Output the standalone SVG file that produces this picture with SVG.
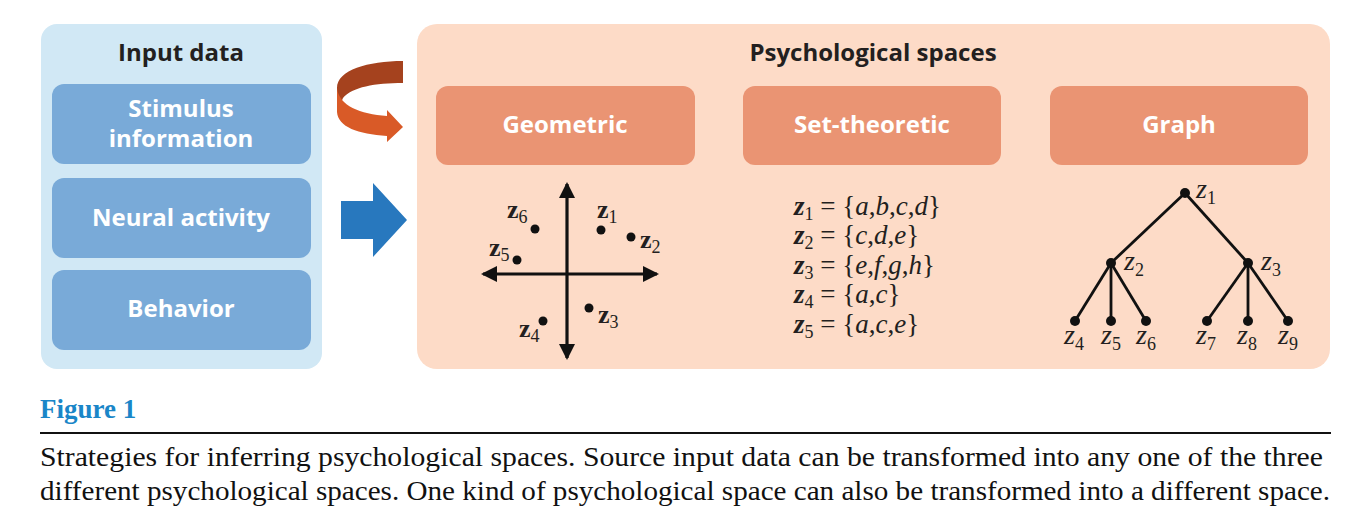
<svg xmlns="http://www.w3.org/2000/svg" width="1354" height="527" viewBox="0 0 1354 527">
<style>
.hd{font-family:"Open Sans","Noto Sans",sans-serif;font-weight:700;font-size:24px;fill:#231f20;text-anchor:middle}
.bl{font-family:"Open Sans","Noto Sans",sans-serif;font-weight:700;font-size:24px;fill:#ffffff;text-anchor:middle}
.zb{font-family:"Liberation Serif",serif;font-weight:700;font-size:26px;fill:#231f20}
.sb{font-family:"Liberation Serif",serif;font-size:18px;font-style:normal;font-weight:400;fill:#231f20}
.st{font-family:"Liberation Serif",serif;font-size:27px;fill:#231f20}
.zi{font-family:"Liberation Serif",serif;font-style:italic;font-size:28px;fill:#231f20}
.ax{stroke:#111;stroke-width:3.2;fill:none}
.ed{stroke:#111;stroke-width:2.8;fill:none}
.cap{font-family:"Liberation Serif",serif;font-size:28px;fill:#111}
</style>
<defs>
<marker id="ah" viewBox="0 0 16 16" refX="14" refY="8" markerWidth="16" markerHeight="16" markerUnits="userSpaceOnUse" orient="auto-start-reverse">
<path d="M0,0 L16,8 L0,16 Z" fill="#111"/>
</marker>
</defs>
<rect width="1354" height="527" fill="#ffffff"/>

<g id="input-data">
<rect x="41" y="24" width="281" height="345" rx="16" fill="#d1e8f5"/>
<text class="hd" x="181" y="61">Input data</text>
</g>
<g id="stimulus">
<rect x="52" y="84" width="259" height="80" rx="12" fill="#79aad8"/>
<text class="bl" x="181" y="117">Stimulus</text>
<text class="bl" x="181" y="147">information</text>
</g>
<g id="neural">
<rect x="52" y="178" width="259" height="80" rx="12" fill="#79aad8"/>
<text class="bl" x="181" y="226">Neural activity</text>
</g>
<g id="behavior">
<rect x="52" y="270" width="259" height="80" rx="12" fill="#79aad8"/>
<text class="bl" x="181" y="317">Behavior</text>
</g>

<g id="psych-spaces">
<rect x="417" y="24" width="913" height="345" rx="20" fill="#fddbc7"/>
<text class="hd" x="873" y="61">Psychological spaces</text>
</g>
<g id="geometric">
<rect x="436" y="86" width="259" height="79" rx="12" fill="#ea9473"/>
<text class="bl" x="565" y="133">Geometric</text>
</g>
<g id="set-theoretic">
<rect x="743" y="86" width="258" height="79" rx="12" fill="#ea9473"/>
<text class="bl" x="872" y="133">Set-theoretic</text>
</g>
<g id="graph">
<rect x="1050" y="86" width="258" height="79" rx="12" fill="#ea9473"/>
<text class="bl" x="1179" y="133">Graph</text>
</g>

<g id="connectors">
<path d="M341,201 L373,201 L373,183 L407,220 L373,257 L373,239 L341,239 Z" fill="#2878be"/>
<path d="M403,61 L403,83 C375,83 352,87 343,98 L337,112 L337,88 C337,70 368,61 403,61 Z" fill="#a5421e"/>
<path d="M337,88 L337,112 C338,127 358,134 387,136 L387,142 L403,127 L387,110 L387,116 C360,114 339,106 337,88 Z" fill="#d95a27"/>
</g>

<g id="geometric-plot">
<line class="ax" x1="567" y1="184" x2="567" y2="358" marker-start="url(#ah)" marker-end="url(#ah)"/>
<line class="ax" x1="483" y1="274" x2="657" y2="274" marker-start="url(#ah)" marker-end="url(#ah)"/>
<g fill="#111">
<circle cx="601" cy="230" r="4.5"/>
<circle cx="631" cy="237" r="4.5"/>
<circle cx="535" cy="229" r="4.5"/>
<circle cx="517" cy="260" r="4.5"/>
<circle cx="589" cy="308" r="4.5"/>
<circle cx="543" cy="321" r="4.5"/>
</g>
<text class="zb" x="597" y="218">z<tspan class="sb" dy="5">1</tspan></text>
<text class="zb" x="640" y="248">z<tspan class="sb" dy="5">2</tspan></text>
<text class="zb" x="507" y="218">z<tspan class="sb" dy="5">6</tspan></text>
<text class="zb" x="489" y="256">z<tspan class="sb" dy="5">5</tspan></text>
<text class="zb" x="598" y="323">z<tspan class="sb" dy="5">3</tspan></text>
<text class="zb" x="519" y="337">z<tspan class="sb" dy="5">4</tspan></text>
</g>

<g id="set-list">
<text class="st" x="794" y="215"><tspan font-weight="700" font-style="italic">z</tspan><tspan font-size="18" dy="5">1</tspan><tspan dy="-5"> = {<tspan font-style="italic">a</tspan>,<tspan font-style="italic">b</tspan>,<tspan font-style="italic">c</tspan>,<tspan font-style="italic">d</tspan>}</tspan></text>
<text class="st" x="794" y="244"><tspan font-weight="700" font-style="italic">z</tspan><tspan font-size="18" dy="5">2</tspan><tspan dy="-5"> = {<tspan font-style="italic">c</tspan>,<tspan font-style="italic">d</tspan>,<tspan font-style="italic">e</tspan>}</tspan></text>
<text class="st" x="794" y="274"><tspan font-weight="700" font-style="italic">z</tspan><tspan font-size="18" dy="5">3</tspan><tspan dy="-5"> = {<tspan font-style="italic">e</tspan>,<tspan font-style="italic">f</tspan>,<tspan font-style="italic">g</tspan>,<tspan font-style="italic">h</tspan>}</tspan></text>
<text class="st" x="794" y="303"><tspan font-weight="700" font-style="italic">z</tspan><tspan font-size="18" dy="5">4</tspan><tspan dy="-5"> = {<tspan font-style="italic">a</tspan>,<tspan font-style="italic">c</tspan>}</tspan></text>
<text class="st" x="794" y="333"><tspan font-weight="700" font-style="italic">z</tspan><tspan font-size="18" dy="5">5</tspan><tspan dy="-5"> = {<tspan font-style="italic">a</tspan>,<tspan font-style="italic">c</tspan>,<tspan font-style="italic">e</tspan>}</tspan></text>
</g>

<g id="graph-tree">
<line class="ed" x1="1185" y1="193" x2="1111" y2="263"/>
<line class="ed" x1="1185" y1="193" x2="1248" y2="263"/>
<line class="ed" x1="1111" y1="263" x2="1075" y2="321"/>
<line class="ed" x1="1111" y1="263" x2="1111" y2="321"/>
<line class="ed" x1="1111" y1="263" x2="1146" y2="321"/>
<line class="ed" x1="1248" y1="263" x2="1207" y2="321"/>
<line class="ed" x1="1248" y1="263" x2="1248" y2="321"/>
<line class="ed" x1="1248" y1="263" x2="1288" y2="321"/>
<g fill="#111">
<circle cx="1185" cy="193" r="5"/>
<circle cx="1111" cy="263" r="5"/>
<circle cx="1248" cy="263" r="5"/>
<circle cx="1075" cy="321" r="5"/>
<circle cx="1111" cy="321" r="5"/>
<circle cx="1146" cy="321" r="5"/>
<circle cx="1207" cy="321" r="5"/>
<circle cx="1248" cy="321" r="5"/>
<circle cx="1288" cy="321" r="5"/>
</g>
<text class="zi" x="1196" y="198">z<tspan class="sb" dy="6">1</tspan></text>
<text class="zi" x="1124" y="270">z<tspan class="sb" dy="6">2</tspan></text>
<text class="zi" x="1261" y="270">z<tspan class="sb" dy="6">3</tspan></text>
<text class="zi" x="1064" y="344">z<tspan class="sb" dy="6">4</tspan></text>
<text class="zi" x="1101" y="344">z<tspan class="sb" dy="6">5</tspan></text>
<text class="zi" x="1136" y="344">z<tspan class="sb" dy="6">6</tspan></text>
<text class="zi" x="1196" y="344">z<tspan class="sb" dy="6">7</tspan></text>
<text class="zi" x="1237" y="344">z<tspan class="sb" dy="6">8</tspan></text>
<text class="zi" x="1278" y="344">z<tspan class="sb" dy="6">9</tspan></text>
</g>

<g id="caption">
<text x="40" y="418" font-family="Liberation Serif, serif" font-weight="700" font-size="27" fill="#1a86c8">Figure 1</text>
<line x1="40" y1="433" x2="1331" y2="433" stroke="#111" stroke-width="2"/>
<text class="cap" x="40" y="466" textLength="1283" lengthAdjust="spacingAndGlyphs">Strategies for inferring psychological spaces. Source input data can be transformed into any one of the three</text>
<text class="cap" x="40" y="500" textLength="1290" lengthAdjust="spacingAndGlyphs">different psychological spaces. One kind of psychological space can also be transformed into a different space.</text>
</g>
</svg>
